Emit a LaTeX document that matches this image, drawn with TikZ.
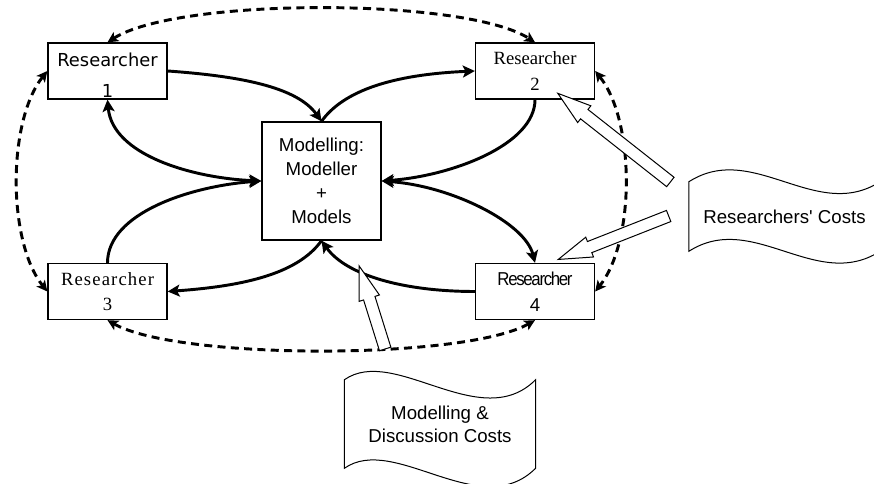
\documentclass[tikz,border=0pt]{standalone}
\usepackage{fontspec}
\usepackage{tikz}
\usetikzlibrary{arrows.meta,calc,shapes.arrows}

\newfontfamily\arialfont{Liberation Sans}
\newfontfamily\timesfont{Liberation Serif}
\newfontfamily\spacedtimes[LetterSpace=6]{Liberation Serif}
\newfontfamily\narrowarial[FakeStretch=0.9,LetterSpace=-7]{Liberation Sans}
\newfontfamily\comicfont{DejaVu Sans}

\begin{document}
\begin{tikzpicture}[x=0.75pt,y=0.75pt]
\tikzset{
  every node/.append style={inner sep=0pt},
  resbox/.style={draw, line width=1pt, minimum width=89.25pt, minimum height=42pt, align=center},
  modbox/.style={resbox, minimum height=88.5pt, font=\arialfont\fontsize{14}{18}\selectfont},
  flow/.style={line width=2.2pt, -{Stealth[length=9pt,width=9pt,inset=2pt]}},
  twoway/.style={flow, {Stealth[length=9pt,width=9pt,inset=2pt]}-{Stealth[length=9pt,width=9pt,inset=2pt]}},
  link/.style={line width=2.2pt, dash pattern=on 6pt off 4pt,
    {Stealth[length=8pt,width=8pt,inset=2pt]}-{Stealth[length=8pt,width=8pt,inset=2pt]}},
  costarrow/.style={single arrow, draw, fill=white, line width=0.75pt, inner sep=4.1pt,
    single arrow head extend=3.5pt, single arrow tip angle=35},
  flag/.style={minimum width=143pt, align=center, font=\arialfont\fontsize{14}{17}\selectfont},
  flagline/.style={draw, fill=white, line width=0.75pt}
}
\useasboundingbox (0,0) rectangle (874,-484);
\clip (0,0) rectangle (874,-484);

% researchers and the modeller
\node [resbox, font=\comicfont\fontsize{13.4}{23}\selectfont] (r1) at (107.5,-71) {\rule{0pt}{16.5pt}Researcher\\1};
\node [resbox, font=\timesfont\fontsize{14}{19.5}\selectfont] (r2) at (535,-71) {Researcher\\2};
\node [resbox, font=\spacedtimes\fontsize{14}{19}\selectfont] (r3) at (107.5,-291.5) {Researcher\\3};
\node [resbox, font=\narrowarial\fontsize{14}{19.5}\selectfont] (r4) at (535,-291.5) {Researcher\\{\arialfont 4}};
\node [modbox] (mod) at (321.5,-181) {Modelling:\\Modeller\\+\\Models};

% costs
\node [flag, minimum height=51.75pt] (rcflag) at (784.5,-216.5) {};
\draw [flagline] (rcflag.north west) .. controls +(64,41) and +(-64,-41) .. (rcflag.north east)
  -- (rcflag.south east) .. controls +(-64,-41) and +(64,41) .. (rcflag.south west) -- cycle;
\node [flag] at (rcflag) {Researchers\textquotesingle{} Costs};
\node [flag, minimum height=66pt] (mdflag) at (440,-424) {};
\draw [flagline] (mdflag.north west) .. controls +(50,35) and +(-55,-55) .. (mdflag.north east)
  -- (mdflag.south east) .. controls +(-55,-55) and +(50,35) .. (mdflag.south west) -- cycle;
\node [flag] at (mdflag) {Modelling \&\\Discussion Costs};

% exchanges with the modeller
\draw [flow] (r1.east) .. controls +(70,-5) and +(-25,35) .. (mod.north);
\draw [flow] (mod.north) .. controls +(25,35) and +(-70,-3) .. (r2.west);
\draw [twoway] (r1.south) .. controls +(5,-55) and +(-70,3) .. (mod.west);
\draw [flow] (r3.north) .. controls +(0,50) and +(-70,-5) .. (mod.west);
\draw [flow] (r2.south) .. controls +(0,-45) and +(70,5) .. (mod.east);
\draw [twoway] (mod.east) .. controls +(70,-5) and +(-10,40) .. (r4.north);
\draw [flow] (r4.west) .. controls +(-70,0) and +(25,-35) .. (mod.south);
\draw [flow] (mod.south) .. controls +(-25,-35) and +(70,5) .. (r3.east);

% researchers among themselves
\draw [link] (r1.north) .. controls +(70,45) and +(-70,45) .. (r2.north);
\draw [link] (r1.west) .. controls +(-40,-50) and +(-40,50) .. (r3.west);
\draw [link] (r2.east) .. controls +(40,-50) and +(40,50) .. (r4.east);
\draw [link] (r3.south) .. controls +(70,-40) and +(-70,-40) .. (r4.south);

% cost arrows
\coordinate (rctail1) at (678,-188);
\coordinate (rctip1) at (565,-99);
\coordinate (rctail2) at (677.5,-212.5);
\coordinate (rctip2) at (567,-256);
\coordinate (mdtail) at (388,-358);
\coordinate (mdtip) at (362,-275);
\path let \p1=($(rctip1)-(rctail1)$), \n1={atan2(\y1,\x1)}, \n2={veclen(\x1,\y1)} in
  node [costarrow, rotate=\n1, minimum height=\n2] (rcarrow1) at ($(rctail1)!0.5!(rctip1)$) {};
\path let \p1=($(rctip2)-(rctail2)$), \n1={atan2(\y1,\x1)}, \n2={veclen(\x1,\y1)} in
  node [costarrow, rotate=\n1, minimum height=\n2] (rcarrow2) at ($(rctail2)!0.5!(rctip2)$) {};
\path let \p1=($(mdtip)-(mdtail)$), \n1={atan2(\y1,\x1)}, \n2={veclen(\x1,\y1)} in
  node [costarrow, rotate=\n1, minimum height=\n2] (mdarrow) at ($(mdtail)!0.5!(mdtip)$) {};
\end{tikzpicture}
\end{document}
